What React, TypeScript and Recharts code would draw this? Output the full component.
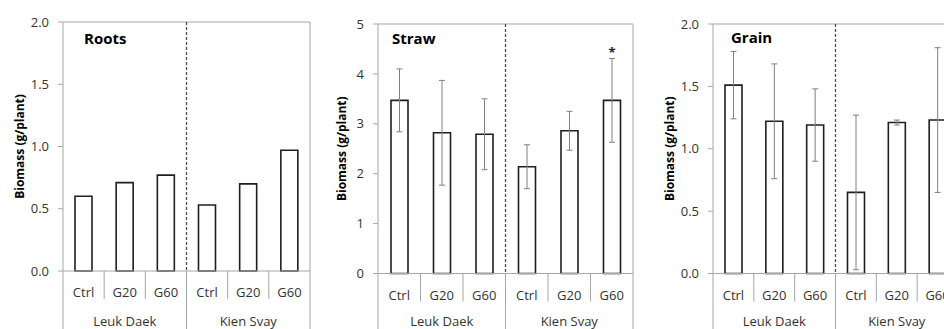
import React from 'react';
import { BarChart, Bar, XAxis, YAxis, ErrorBar, ReferenceLine, LabelList } from 'recharts';

const categories = ['Ctrl', 'G20', 'G60', 'Ctrl', 'G20', 'G60'];
const cultivars = ['Leuk Daek', 'Kien Svay'];

const rootsMean = [0.60, 0.71, 0.77, 0.53, 0.70, 0.97];

const strawMean = [3.47, 2.82, 2.79, 2.14, 2.86, 3.47];
const strawErr = [0.63, 1.05, 0.71, 0.44, 0.39, 0.84];
const strawSig = ['', '', '', '', '', '*'];

const grainMean = [1.51, 1.22, 1.19, 0.65, 1.21, 1.23];
const grainErr = [0.27, 0.46, 0.29, 0.62, 0.02, 0.58];

const rootsTicks = [0, 0.5, 1.0, 1.5, 2.0];
const strawTicks = [0, 1, 2, 3, 4, 5];
const grainTicks = [0, 0.5, 1.0, 1.5, 2.0];

const panelTitles = ['Roots', 'Straw', 'Grain'];
const yAxisTitle = 'Biomass (g/plant)';

// category slots: each bar sits in the middle of a unit slot
const catTicks = categories.map((_, i) => i + 0.5);
const grpTicks = [1.5, 4.5];
const sepPositions = [1, 2, 4, 5];

const AXIS = '#a6a6a6';
const TXT = '#333333';
const FONT = '"Open Sans", sans-serif';
const CAT_H = 30;
const H = 329;

type PanelProps = {
  title: string;
  mean: number[];
  err?: number[];
  sig?: string[];
  ticks: number[];
  decimals: number;
  left: number;
  width: number;
  yAxisWidth: number;
  labelOffset: number;
  top: number;
  grpHeight: number;
  titleLeft: number;
  titleTop: number;
};

function makeVLine(kind: 'full' | 'dashed' | 'sep', ext: number) {
  return (props: any) => {
    const { x1, y1, y2 } = props;
    const yTop = Math.min(y1, y2);
    const yBase = Math.max(y1, y2);
    if (kind === 'sep') {
      return <line x1={x1} x2={x1} y1={yBase} y2={yBase + 28} stroke={AXIS} strokeWidth={1} />;
    }
    if (kind === 'dashed') {
      return (
        <g>
          <line x1={x1} x2={x1} y1={yTop} y2={yBase} stroke="#4d4d4d" strokeWidth={1.3} strokeDasharray="3 2" />
          <line x1={x1} x2={x1} y1={yBase} y2={yBase + ext} stroke={AXIS} strokeWidth={1} />
        </g>
      );
    }
    return <line x1={x1} x2={x1} y1={yTop} y2={yBase + ext} stroke={AXIS} strokeWidth={1} />;
  };
}

function Panel(p: PanelProps) {
  const data = categories.map((c, i) => ({
    pos: i + 0.5,
    cat: c,
    value: p.mean[i],
    err: p.err ? p.err[i] : 0,
    sig: p.sig ? p.sig[i] : '',
  }));
  const yMax = p.ticks[p.ticks.length - 1];
  const ext = CAT_H + p.grpHeight;
  const plotH = H - p.top - CAT_H - p.grpHeight;
  const renderYTitle = () => {
    const cx = p.labelOffset;
    const cy = p.top + plotH / 2;
    return (
      <text
        x={cx}
        y={cy}
        transform={`rotate(-90 ${cx} ${cy})`}
        textAnchor="middle"
        dominantBaseline="central"
        fontFamily={FONT}
        fontWeight={700}
        fontSize={12}
        fill="#000"
      >
        {yAxisTitle}
      </text>
    );
  };
  return (
    <div style={{ position: 'absolute', left: p.left, top: 0, width: p.width, height: H }}>
      <BarChart
        width={p.width}
        height={H}
        data={data}
        margin={{ top: p.top, right: 5, left: 0, bottom: 0 }}
        barSize={17}
      >
        <XAxis
          dataKey="pos"
          type="number"
          domain={[0, 6]}
          allowDataOverflow
          ticks={catTicks}
          interval={0}
          height={CAT_H}
          axisLine={{ stroke: AXIS }}
          tickLine={false}
          tickSize={0}
          tickMargin={17}
          tickFormatter={(v: number) => categories[Math.floor(v)]}
          tick={{ fontSize: 13, fill: TXT, fontFamily: FONT }}
        />
        <XAxis
          xAxisId="grp"
          dataKey="pos"
          type="number"
          domain={[0, 6]}
          allowDataOverflow
          ticks={grpTicks}
          interval={0}
          height={p.grpHeight}
          axisLine={false}
          tickLine={false}
          tickSize={0}
          tickMargin={p.grpHeight - 12}
          tickFormatter={(v: number) => cultivars[Math.floor(v / 3)]}
          tick={{ fontSize: 13, fill: TXT, fontFamily: FONT }}
        />
        <YAxis
          width={p.yAxisWidth}
          domain={[0, yMax]}
          ticks={p.ticks}
          interval={0}
          axisLine={false}
          tickLine={{ stroke: AXIS }}
          tickSize={5}
          tickMargin={9}
          tickFormatter={(v: number) => v.toFixed(p.decimals)}
          tick={{ fontSize: 13, fill: TXT, fontFamily: FONT }}
          label={{ content: renderYTitle }}
        />
        <Bar dataKey="value" fill="#ffffff" stroke="#1f1f1f" strokeWidth={1.6} isAnimationActive={false}>
          {p.err ? (
            <ErrorBar dataKey="err" width={3} stroke="#808080" strokeWidth={1} direction="y" />
          ) : null}
          {p.sig ? (
            <LabelList
              dataKey="sig"
              position="top"
              offset={43}
              style={{ fontSize: 13, fontWeight: 700, fill: '#222', fontFamily: FONT }}
            />
          ) : null}
        </Bar>
        <ReferenceLine y={yMax} stroke={AXIS} strokeWidth={1} />
        <ReferenceLine x={0} shape={makeVLine('full', ext)} />
        <ReferenceLine x={6} shape={makeVLine('full', ext)} />
        <ReferenceLine x={3} shape={makeVLine('dashed', ext)} />
        {sepPositions.map((s) => (
          <ReferenceLine key={s} x={s} shape={makeVLine('sep', ext)} />
        ))}
      </BarChart>
      <div
        style={{
          position: 'absolute',
          left: p.titleLeft - p.left,
          top: p.titleTop,
          fontFamily: FONT,
          fontWeight: 700,
          fontSize: 15,
          lineHeight: '18px',
          color: '#000',
          whiteSpace: 'nowrap',
        }}
      >
        {p.title}
      </div>
    </div>
  );
}

export default function App() {
  return (
    <div
      style={{
        position: 'absolute',
        left: 0,
        top: 0,
        width: 944,
        height: H,
        overflow: 'hidden',
        background: '#ffffff',
      }}
    >
      <Panel
        title={panelTitles[0]}
        mean={rootsMean}
        ticks={rootsTicks}
        decimals={1}
        left={0}
        width={315}
        yAxisWidth={63}
        labelOffset={19.5}
        top={22}
        grpHeight={28}
        titleLeft={84}
        titleTop={29}
      />
      <Panel
        title={panelTitles[1]}
        mean={strawMean}
        err={strawErr}
        sig={strawSig}
        ticks={strawTicks}
        decimals={0}
        left={318}
        width={320}
        yAxisWidth={60}
        labelOffset={23}
        top={24}
        grpHeight={25.5}
        titleLeft={392}
        titleTop={29}
      />
      <Panel
        title={panelTitles[2]}
        mean={grainMean}
        err={grainErr}
        ticks={grainTicks}
        decimals={1}
        left={640}
        width={323}
        yAxisWidth={73}
        labelOffset={29}
        top={24}
        grpHeight={25.5}
        titleLeft={731}
        titleTop={28}
      />
    </div>
  );
}
